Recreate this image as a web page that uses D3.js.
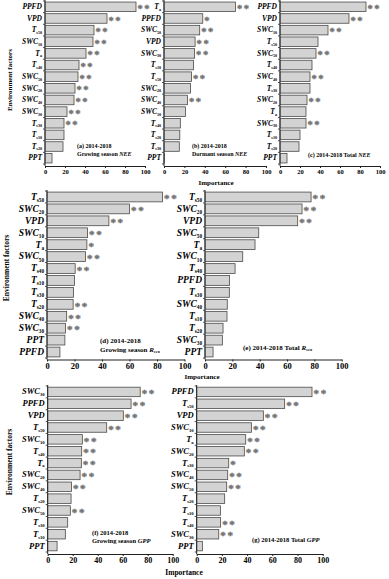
<!DOCTYPE html>
<html>
<head>
<meta charset="utf-8">
<script src="https://cdn.jsdelivr.net/npm/d3@7"></script>
<style>
body { margin: 0; background: #fff; }
svg { display: block; font-family: "Liberation Serif", "Times New Roman", serif; font-weight: bold; }
</style>
</head>
<body>
<svg id="chart" width="389" height="579"></svg>
<script>
// tick labels shared by all panels
var ticks = [0, 20, 40, 60, 80, 100];

// (a) growing season NEE
var labelsA = ['PPFD', 'VPD', 'Ts50', 'SWC10', 'Ta', 'Ts40', 'SWC50', 'SWC20', 'SWC40', 'SWC30', 'Ts30', 'Ts10', 'Ts20', 'PPT'];
var valuesA = [91, 62, 49, 48, 41, 34, 33, 30, 29, 22, 19, 19, 18, 7];
var sigA = ['**', '**', '**', '**', '**', '**', '**', '**', '**', '**', '**', '', '', ''];

// (b) dormant season NEE
var labelsB = ['Ta', 'PPFD', 'SWC50', 'VPD', 'SWC30', 'Ts10', 'Ts50', 'SWC20', 'SWC40', 'SWC10', 'Ts40', 'Ts20', 'Ts30', 'PPT'];
var valuesB = [70, 38, 35, 30.5, 30, 29, 27, 26, 23, 21, 16, 15.5, 15, 0.3];
var sigB = ['**', '*', '**', '**', '**', '', '**', '', '**', '', '', '', '', ''];

// (c) total NEE
var labelsC = ['PPFD', 'VPD', 'SWC10', 'Ts50', 'SWC50', 'Ts40', 'SWC40', 'Ts30', 'SWC20', 'Ta', 'SWC30', 'Ts10', 'Ts20', 'PPT'];
var valuesC = [86, 69, 48, 38, 36, 32, 30, 30, 27, 26, 26, 20, 19, 7];
var sigC = ['**', '**', '**', '', '**', '', '**', '', '**', '', '**', '', '', ''];

// (d) growing season Reco
var labelsD = ['Ts50', 'SWC20', 'VPD', 'SWC10', 'Ta', 'SWC50', 'Ts40', 'Ts10', 'Ts30', 'Ts20', 'SWC40', 'SWC30', 'PPT', 'PPFD'];
var valuesD = [84, 60, 45, 29.5, 29, 28, 20.5, 20, 19.3, 19, 14.3, 13.5, 13, 9.4];
var sigD = ['**', '**', '**', '**', '*', '**', '**', '', '', '**', '**', '**', '', ''];

// (e) total Reco
var labelsE = ['Ts50', 'SWC20', 'VPD', 'SWC50', 'Ta', 'SWC10', 'Ts40', 'PPFD', 'Ts30', 'SWC40', 'Ts10', 'Ts20', 'SWC30', 'PPT'];
var valuesE = [77.6, 71, 67.8, 39.3, 36.6, 27.6, 22, 18, 17.8, 16.3, 16.1, 13.2, 12.7, 5.9];
var sigE = ['**', '**', '**', '', '', '', '', '', '', '', '', '', '', ''];

// (f) growing season GPP
var labelsF = ['SWC30', 'PPFD', 'VPD', 'Ts50', 'SWC10', 'Ts40', 'Ta', 'SWC20', 'SWC40', 'Ts20', 'SWC50', 'Ts30', 'Ts10', 'PPT'];
var valuesF = [74, 66.7, 60.5, 47.2, 27.7, 27.2, 26.9, 25.9, 19, 18.7, 18.1, 16, 14.1, 7.5];
var sigF = ['**', '**', '**', '**', '**', '**', '**', '**', '**', '', '**', '', '', ''];

// (g) total GPP
var labelsG = ['PPFD', 'Ts50', 'VPD', 'SWC10', 'Ta', 'SWC20', 'Ts30', 'SWC40', 'SWC50', 'Ts20', 'Ts10', 'Ts40', 'SWC30', 'PPT'];
var valuesG = [91.5, 69.8, 52.9, 43.4, 38.9, 37.8, 25.4, 24.6, 23.8, 22.2, 18.8, 19, 17.5, 4.5];
var sigG = ['**', '**', '**', '**', '**', '**', '*', '**', '**', '', '', '**', '**', ''];

var svg = d3.select('#chart');

// split "SWC10" -> SWC + 10, "Ts50" -> T + s50
function splitLabel(l) {
  if (l.indexOf('SWC') === 0) return [l.slice(0, 3), l.slice(3)];
  if (l[0] === 'T') return ['T', l.slice(1)];
  return [l, ''];
}

function drawPanel(p) {
  var x = d3.scaleLinear().domain([0, 100]).range([p.x0, p.x1]);
  var y = d3.scaleBand().domain(p.labels).range([p.y0, p.y1])
    .paddingInner(p.pad).paddingOuter(p.pad / 2);
  var g = svg.append('g');

  // bars
  g.selectAll('rect').data(p.values).enter().append('rect')
    .attr('x', x(0))
    .attr('y', (d, i) => y(p.labels[i]))
    .attr('width', d => x(d) - x(0))
    .attr('height', y.bandwidth())
    .attr('fill', '#d3d3d3')
    .attr('stroke', '#4a4a4a')
    .attr('stroke-width', 0.8);

  // significance stars
  g.selectAll('text.sig').data(p.sig).enter().append('text')
    .attr('class', 'sig')
    .attr('x', (d, i) => x(p.values[i]) + 1.5)
    .attr('y', (d, i) => y(p.labels[i]) + y.bandwidth() / 2 + p.starSize * 0.48)
    .attr('font-size', p.starSize)
    .attr('letter-spacing', p.starSize * 0.15)
    .attr('fill', '#707070')
    .attr('stroke', '#707070')
    .attr('stroke-width', 0.35)
    .text(d => d);

  // y axis line and band ticks
  g.append('line')
    .attr('x1', x(0)).attr('x2', x(0))
    .attr('y1', p.y0 - 1).attr('y2', p.axisY)
    .attr('stroke', '#222').attr('stroke-width', 1);
  var step = y.step();
  g.selectAll('line.yt').data(d3.range(p.labels.length + 1)).enter().append('line')
    .attr('class', 'yt')
    .attr('x1', x(0) - 2).attr('x2', x(0))
    .attr('y1', i => p.y0 + i * step).attr('y2', i => p.y0 + i * step)
    .attr('stroke', '#222').attr('stroke-width', 0.8);

  // factor labels
  var lab = g.selectAll('text.lab').data(p.labels).enter().append('text')
    .attr('class', 'lab')
    .attr('x', x(0) - 3)
    .attr('y', d => y(d) + y.bandwidth() / 2 + p.labSize * 0.3)
    .attr('text-anchor', 'end')
    .attr('font-size', p.labSize)
    .attr('font-style', 'italic');
  lab.append('tspan').text(d => splitLabel(d)[0]);
  lab.append('tspan')
    .attr('font-size', p.labSize * 0.55)
    .attr('font-style', 'normal')
    .attr('dy', p.labSize * 0.22)
    .text(d => splitLabel(d)[1]);

  // x axis
  var ax = g.append('g')
    .attr('transform', 'translate(0,' + p.axisY + ')')
    .call(d3.axisBottom(x).tickValues(ticks).tickSize(2).tickSizeOuter(0).tickFormat(d3.format('d')));
  ax.select('.domain').attr('stroke', '#222');
  ax.selectAll('.tick line').attr('stroke', '#222');
  ax.selectAll('.tick text')
    .attr('font-family', '"Liberation Serif", serif')
    .attr('font-weight', 'bold')
    .attr('font-size', p.tickSize)
    .attr('fill', '#000')
    .attr('y', 3);

  // panel note
  p.note.forEach(function (line, k) {
    var t = g.append('text')
      .attr('x', p.noteX)
      .attr('y', p.noteY + k * p.noteSize * 1.25)
      .attr('font-size', p.noteSize);
    line.forEach(function (part) {
      var s = t.append('tspan').text(part[0]);
      if (part[1] === 'i') s.attr('font-style', 'italic');
      if (part[1] === 'sub') s.attr('font-size', p.noteSize * 0.6).attr('dy', p.noteSize * 0.2);
    });
  });
}

var rowTop = { y0: 1, y1: 164, axisY: 166, pad: 0.18, labSize: 7.5, tickSize: 6.5, starSize: 10.5, noteSize: 6 };
var rowMid = { y0: 191, y1: 358, axisY: 359.5, pad: 0.18, labSize: 9.5, tickSize: 8.5, starSize: 11, noteSize: 7 };
var rowBot = { y0: 386, y1: 552, axisY: 554, pad: 0.2, labSize: 8.5, tickSize: 8, starSize: 11, noteSize: 6.5 };

var panels = [
  Object.assign({}, rowTop, { x0: 45, x1: 145, labels: labelsA, values: valuesA, sig: sigA, noteX: 77, noteY: 148,
    note: [[['(a) 2014-2018']], [['Growing season '], ['NEE', 'i']]] }),
  Object.assign({}, rowTop, { x0: 164, x1: 266, labels: labelsB, values: valuesB, sig: sigB, noteX: 192, noteY: 148,
    note: [[['(b) 2014-2018']], [['Dormant season '], ['NEE', 'i']]] }),
  Object.assign({}, rowTop, { x0: 280, x1: 380, labels: labelsC, values: valuesC, sig: sigC, noteX: 308, noteY: 157,
    note: [[['(c) 2014-2018 Total '], ['NEE', 'i']]] }),
  Object.assign({}, rowMid, { x0: 47, x1: 184.5, labels: labelsD, values: valuesD, sig: sigD, noteX: 100, noteY: 343,
    note: [[['(d) 2014-2018']], [['Growing season '], ['R', 'i'], ['eco', 'sub']]] }),
  Object.assign({}, rowMid, { x0: 205, x1: 341.7, labels: labelsE, values: valuesE, sig: sigE, noteX: 243, noteY: 350,
    note: [[['(e) 2014-2018  Total '], ['R', 'i'], ['eco', 'sub']]] }),
  Object.assign({}, rowBot, { x0: 47.7, x1: 172.7, labels: labelsF, values: valuesF, sig: sigF, noteX: 92, noteY: 535,
    note: [[['(f) 2014-2018']], [['Growing season '], ['GPP', 'i']]] }),
  Object.assign({}, rowBot, { x0: 196.7, x1: 322.7, labels: labelsG, values: valuesG, sig: sigG, noteX: 252, noteY: 542,
    note: [[['(g) 2014-2018  Total '], ['GPP', 'i']]] })
];

panels.forEach(drawPanel);

// axis titles
var titles = [
  { text: 'Importance', x: 216, y: 185, size: 7, rot: 0 },
  { text: 'Importance', x: 202, y: 379, size: 7, rot: 0 },
  { text: 'Importance', x: 184, y: 575, size: 7.5, rot: 0 },
  { text: 'Environment factors', x: 12, y: 80, size: 7, rot: -90 },
  { text: 'Environment factors', x: 9, y: 268, size: 7.5, rot: -90 },
  { text: 'Environment factors', x: 12, y: 462, size: 7.5, rot: -90 }
];
svg.selectAll('text.title').data(titles).enter().append('text')
  .attr('class', 'title')
  .attr('text-anchor', 'middle')
  .attr('font-size', d => d.size)
  .attr('transform', d => 'translate(' + d.x + ',' + d.y + ') rotate(' + d.rot + ')')
  .text(d => d.text);
</script>
</body>
</html>
